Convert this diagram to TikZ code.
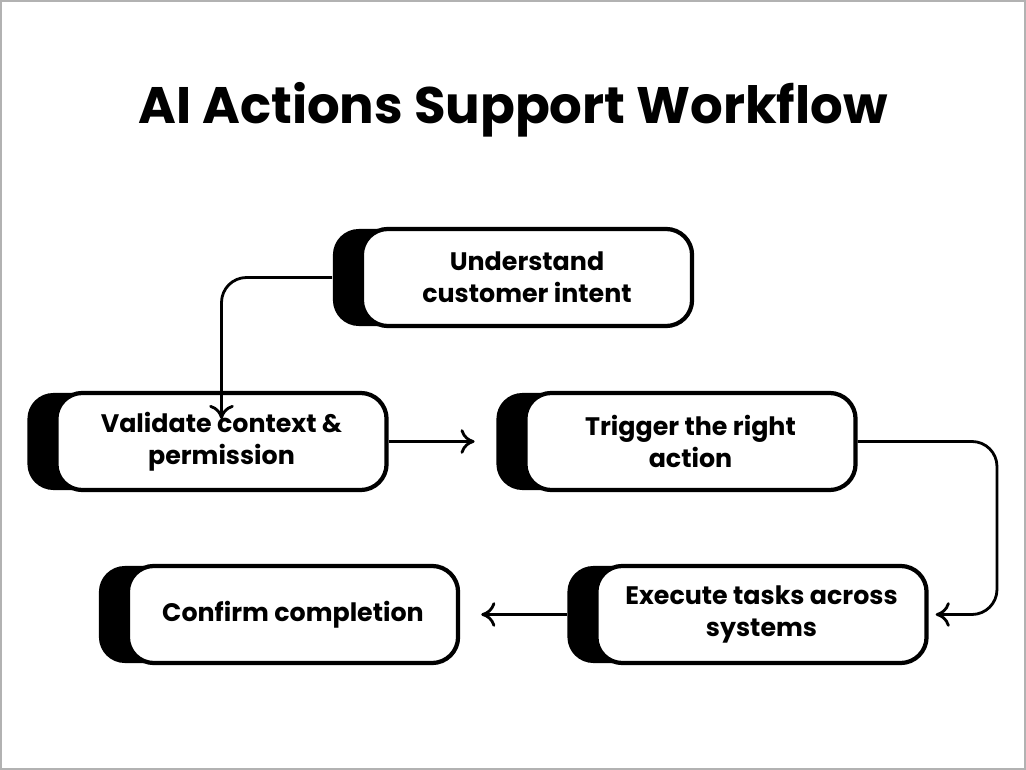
\documentclass[tikz,border=0pt]{standalone}
\usepackage{fontspec}
\setmainfont{Poppins}
\usetikzlibrary{positioning,arrows.meta}
\tikzset{
  stepbox/.style={draw=black, line width=1.2pt, fill=white, rounded corners=0.26cm,
    minimum width=3.3cm, minimum height=0.97cm, align=center,
    font=\fontsize{7.2pt}{9pt}\selectfont\bfseries},
  stepshadow/.style={fill=black, rounded corners=0.26cm, minimum width=3.3cm,
    minimum height=0.97cm},
  flow/.style={draw=black, line width=0.8pt, -{To[length=4pt,width=7pt]}, rounded corners=0.25cm}
}
\begin{document}
\begin{tikzpicture}[x=0.01cm,y=-0.01cm]
  \useasboundingbox (0,0) rectangle (1026,770);
  \draw[gray!60, line width=0.6pt] (1,1) rectangle (1025,769);
  \node[font=\fontsize{14.6pt}{17pt}\selectfont\bfseries] (title) at (513,110) {AI Actions Support Workflow};
  % shadows
  \node[stepshadow] (s1) at (498,277.5) {};
  \node[stepshadow] (s2) at (192.5,441.5) {};
  \node[stepshadow] (s3) at (661.5,441.5) {};
  \node[stepshadow] (s4) at (732.5,614.5) {};
  \node[stepshadow] (s5) at (264,614.5) {};
  % boxes
  \node[stepbox] (intent) at (527,277.5) {Understand\\customer intent};
  \node[stepbox] (validate) at (221.5,441.5) {Validate context \&\\permission};
  \node[stepbox] (trigger) at (690.5,441.5) {Trigger the right\\action};
  \node[stepbox] (execute) at (761.5,614.5) {Execute tasks across\\systems};
  \node[stepbox] (confirm) at (293,614.5) {Confirm completion};
  % connectors
  \draw[flow] (s1.west) -| ([yshift=-8]validate.north);
  \draw[flow] (validate.east) -- ([xshift=-6]s3.west);
  \draw[flow] (trigger.east) -- (997,441.5) |- ([xshift=2]execute.east);
  \draw[flow] (s4.west) -- ([xshift=6]confirm.east);
\end{tikzpicture}
\end{document}
